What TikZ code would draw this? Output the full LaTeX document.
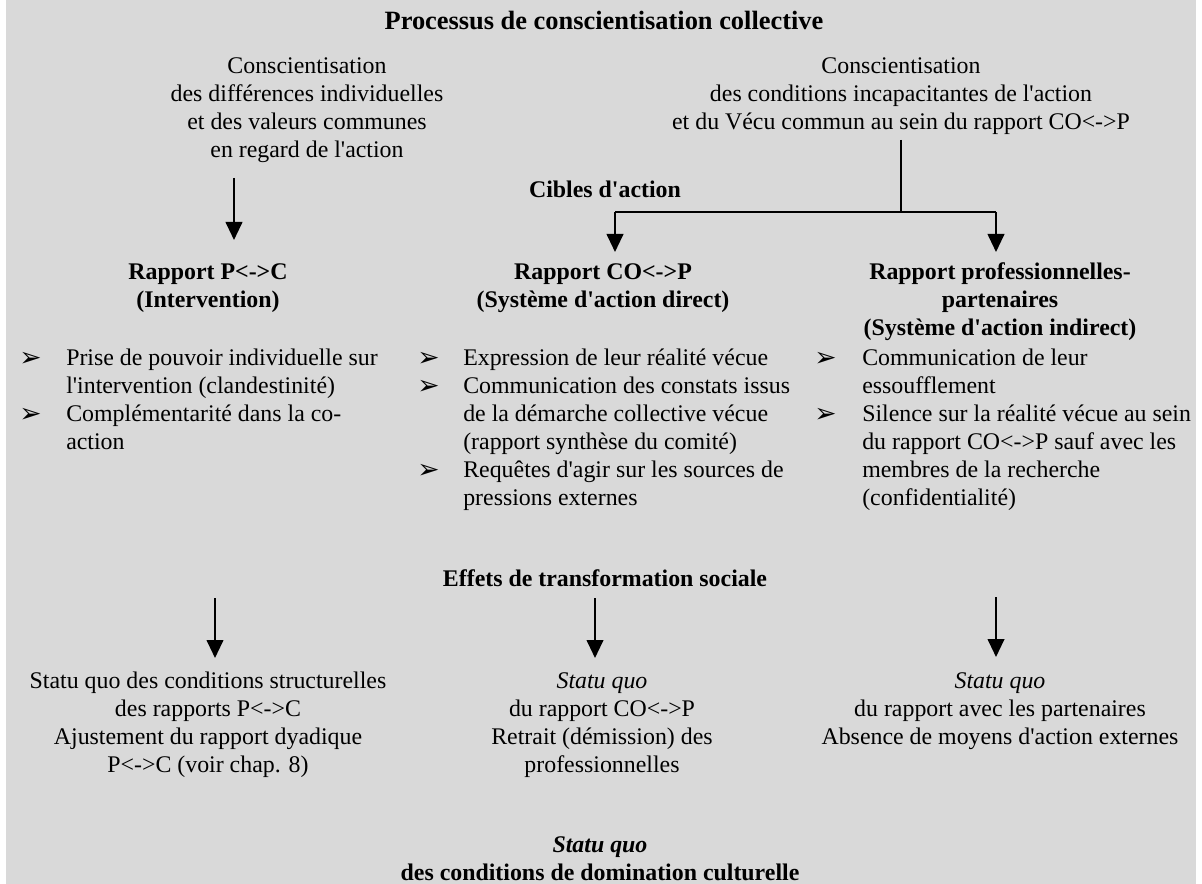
\documentclass[tikz,border=0pt]{standalone}
\usepackage{fontspec}
\setmainfont{Liberation Serif}
\newfontfamily\dingfont{DejaVu Sans}
\usetikzlibrary{arrows.meta}

\definecolor{paper}{RGB}{217,217,217}
\newcommand\bodysize{\fontsize{17.9}{21}\selectfont}
\newcommand\titlesize{\fontsize{19.8}{23}\selectfont}
% straight typewriter apostrophe, set as a glyph so that no TeX mapping curls it
\newcommand\ap{{\XeTeXglyph\XeTeXcharglyph"27\relax}}

\tikzset{
  txt/.style={inner sep=0pt, font=\bodysize, align=center},
  headtxt/.style={inner sep=0pt, font=\bodysize\bfseries, align=center},
  itemtxt/.style={inner sep=0pt, font=\bodysize, align=left, anchor=north west},
  bul/.style={inner sep=0pt, font=\dingfont\fontsize{20}{20}\selectfont, anchor=base west},
  arr/.style={line width=1.5pt, -{Triangle[length=13.5pt,width=12.5pt]}},
  link/.style={line width=1.5pt},
}

\begin{document}
\begin{tikzpicture}[x=0.75pt,y=-0.75pt]
% page and scanned paper tone
\fill[white] (0,0) rectangle (1202,884);
\fill[paper] (6,0) rectangle (1196,884);
\useasboundingbox (0,0) rectangle (1202,884);

% title
\node[headtxt, font=\titlesize\bfseries, anchor=base] (title) at (604,30)
  {Processus de conscientisation collective};

% the two kinds of awareness
\node[txt, anchor=north] (cleft) at (307,53.4)
  {\strut Conscientisation\\des différences individuelles\\et des valeurs communes\\en regard de l\ap action};
\node[txt, anchor=north] (cright) at (901,53.4)
  {\strut Conscientisation\\des conditions incapacitantes de l\ap action\\et du Vécu commun au sein du rapport CO<->P};

\node[headtxt, anchor=base] (cibles) at (605,198) {Cibles d\ap action};

% targets of action
\node[headtxt, anchor=north] (rpc) at (208,259.4) {\strut Rapport P<->C\\(Intervention)};
\node[headtxt, anchor=north] (rco) at (603,259.4) {\strut Rapport CO<->P\\(Système d\ap action direct)};
\node[headtxt, anchor=north] (rpp) at (1000,259.4)
  {\strut Rapport professionnelles-\\partenaires\\(Système d\ap action indirect)};

% connectors of the upper part
\coordinate (a1s) at (234,178);
\coordinate (a1e) at (234,240);
\draw[arr] (a1s) -- (a1e);

\coordinate (tr0) at (901,140);
\coordinate (trm) at (901,212);
\coordinate (trl) at (615,212);
\coordinate (trr) at (996,212);
\coordinate (trle) at (615,252);
\coordinate (trre) at (996,252);
\draw[link] (tr0) -- (trm);
\draw[link] (trl) -- (trr);
\draw[arr] (trl) -- (trle);
\draw[arr] (trr) -- (trre);

% left column items
\node[bul] (bl1) at (19,366) {➢};
\node[itemtxt] (il1) at (66,345.4) {\strut Prise de pouvoir individuelle sur\\l\ap intervention (clandestinité)};
\node[bul] (bl2) at (19,422) {➢};
\node[itemtxt] (il2) at (66,401.4) {\strut Complémentarité dans la co-\\action};

% middle column items
\node[bul] (bm1) at (417,366) {➢};
\node[itemtxt] (im1) at (463,345.4) {\strut Expression de leur réalité vécue};
\node[bul] (bm2) at (417,394) {➢};
\node[itemtxt] (im2) at (463,373.4) {\strut Communication des constats issus\\de la démarche collective vécue\\(rapport synthèse du comité)};
\node[bul] (bm3) at (417,478) {➢};
\node[itemtxt] (im3) at (463,457.4) {\strut Requêtes d\ap agir sur les sources de\\pressions externes};

% right column items
\node[bul] (br1) at (814,366) {➢};
\node[itemtxt] (ir1) at (862,345.4) {\strut Communication de leur\\essoufflement};
\node[bul] (br2) at (814,422) {➢};
\node[itemtxt] (ir2) at (862,401.4) {\strut Silence sur la réalité vécue au sein\\du rapport CO<->P sauf avec les\\membres de la recherche\\(confidentialité)};

% effects
\node[headtxt, anchor=base] (effets) at (605,586) {Effets de transformation sociale};

\coordinate (e1s) at (215,598);
\coordinate (e1e) at (215,658);
\coordinate (e2s) at (595,598);
\coordinate (e2e) at (595,658);
\coordinate (e3s) at (996,597);
\coordinate (e3e) at (996,657);
\draw[arr] (e1s) -- (e1e);
\draw[arr] (e2s) -- (e2e);
\draw[arr] (e3s) -- (e3e);

\node[txt, anchor=north] (sql) at (208,668.4)
  {\strut Statu quo des conditions structurelles\\des rapports P<->C\\Ajustement du rapport dyadique\\P<->C (voir chap. 8)};
\node[txt, anchor=north] (sqm) at (602,668.4)
  {\strut\textit{Statu quo}\\du rapport CO<->P\\Retrait (démission) des\\professionnelles};
\node[txt, anchor=north] (sqr) at (1000,668.4)
  {\strut\textit{Statu quo}\\du rapport avec les partenaires\\Absence de moyens d\ap action externes};

% overall outcome
\node[headtxt, anchor=north] (final) at (600,832.4)
  {\strut\textit{Statu quo}\\des conditions de domination culturelle};
\end{tikzpicture}
\end{document}
